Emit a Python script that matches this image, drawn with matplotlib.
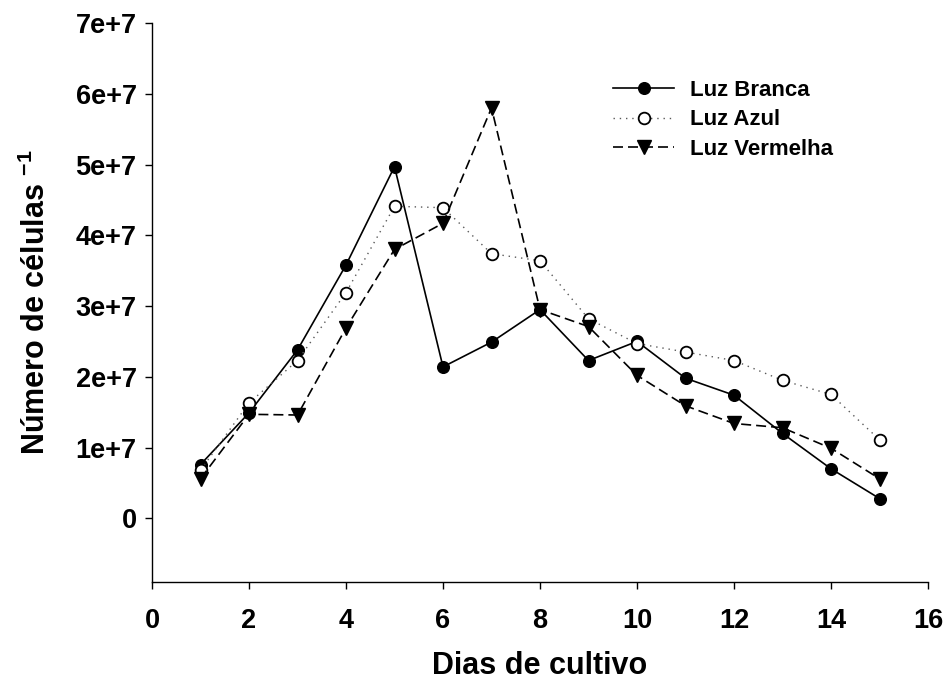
import numpy as np
import matplotlib
matplotlib.use('Agg')
import matplotlib.pyplot as plt
from matplotlib.ticker import FixedLocator, FuncFormatter

# growth curves, cells per day of culture
days = [1, 2, 3, 4, 5, 6, 7, 8, 9, 10, 11, 12, 13, 14, 15]
luz_branca = [0.76e7, 1.49e7, 2.38e7, 3.58e7, 4.97e7, 2.14e7, 2.49e7, 2.95e7,
              2.23e7, 2.50e7, 1.98e7, 1.74e7, 1.20e7, 0.70e7, 0.28e7]
luz_azul = [0.68e7, 1.63e7, 2.23e7, 3.19e7, 4.41e7, 4.39e7, 3.74e7, 3.64e7,
            2.82e7, 2.47e7, 2.35e7, 2.23e7, 1.95e7, 1.75e7, 1.11e7]
luz_vermelha = [0.56e7, 1.47e7, 1.46e7, 2.69e7, 3.80e7, 4.17e7, 5.80e7, 2.95e7,
                2.71e7, 2.02e7, 1.59e7, 1.34e7, 1.28e7, 0.99e7, 0.56e7]
labels = ['Luz Branca', 'Luz Azul', 'Luz Vermelha']
yticks = [0, 1e7, 2e7, 3e7, 4e7, 5e7, 6e7, 7e7]
xticks = [0, 2, 4, 6, 8, 10, 12, 14, 16]

plt.rcParams['font.family'] = ['Liberation Sans', 'DejaVu Sans']
plt.rcParams['font.weight'] = 'bold'
plt.rcParams['mathtext.fontset'] = 'custom'
plt.rcParams['mathtext.rm'] = 'Liberation Sans:bold'
plt.rcParams['mathtext.bf'] = 'Liberation Sans:bold'

fig = plt.figure(figsize=(9.44, 6.82), dpi=100)
ax = fig.add_axes([152/944, 1 - 582/682, (928 - 152)/944, (582 - 23)/682])

ax.plot(days, luz_branca, color='k', lw=1.2, ls='-', marker='o', ms=8.4,
        mfc='k', mec='k', label=labels[0])
ax.plot(days, luz_azul, color='0.35', lw=1.0, ls=(0, (1, 3.5)), marker='o', ms=8.4,
        mfc='white', mec='k', mew=1.3, label=labels[1])
ax.plot(days, luz_vermelha, color='k', lw=1.2, ls=(0, (6, 3)), marker='v', ms=9.5,
        mfc='k', mec='k', label=labels[2])

ax.set_xlim(0, 16)
ax.set_ylim(-0.9e7, 7e7)
ax.xaxis.set_major_locator(FixedLocator(xticks))
ax.yaxis.set_major_locator(FixedLocator(yticks))

def sci_fmt(v, pos):
    if v == 0:
        return '0'
    return '%de+7' % round(v / 1e7)

ax.yaxis.set_major_formatter(FuncFormatter(sci_fmt))

for side in ['top', 'right']:
    ax.spines[side].set_visible(False)
for side in ['left', 'bottom']:
    ax.spines[side].set_linewidth(1.0)

ax.tick_params(axis='both', direction='out', length=5, width=1.0,
               labelsize=19.5)
ax.tick_params(axis='x', pad=14)
ax.tick_params(axis='y', pad=6)

ax.set_xlabel('Dias de cultivo', fontsize=22, fontweight='bold', labelpad=12)
ax.set_ylabel('Número de células $^{\\mathbf{-1}}$', fontsize=22,
              fontweight='bold', labelpad=17)

leg = ax.legend(loc='upper left', bbox_to_anchor=(613/944, 1 - 80/682),
                bbox_transform=fig.transFigure, frameon=False, numpoints=1,
                fontsize=16, handlelength=2.75, handletextpad=0.7,
                labelspacing=0.38, borderpad=0, borderaxespad=0)
for t in leg.get_texts():
    t.set_fontweight('bold')

fig.savefig('out.png', dpi=100)
